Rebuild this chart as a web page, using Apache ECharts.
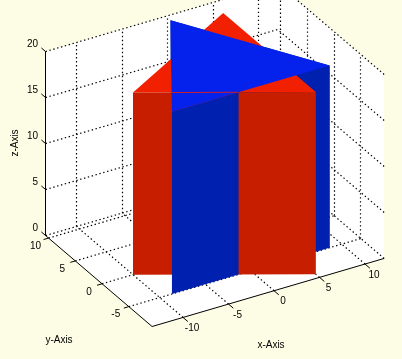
<!DOCTYPE html>
<html>
<head>
<meta charset="utf-8">
<style>html,body{margin:0;padding:0;background:#fdfde6}#c{width:402px;height:359px}</style>
<script src="https://cdn.jsdelivr.net/npm/echarts@6/dist/echarts.min.js"></script>
</head>
<body>
<div id="c"></div>
<script>
// ---- data ----
const xTicks = [-10, -5, 0, 5, 10];
const yTicks = [-5, 0, 5, 10];
const zTicks = [0, 5, 10, 15, 20];
const xRange = [-13.4, 12.1];
const yRange = [-9.35, 10.55];
const zRange = [0, 20];
const prismHeight = 19.8;
const redTriangle = [[-10, 0], [5, -8.66], [5, 8.66]];
const blueTriangle = [[-8.66, -5], [8.66, -5], [0, 10]];
const crossing = [-1.34, -5];
const axisTitles = ['x-Axis', 'y-Axis', 'z-Axis'];

// ---- orthographic view of the 3D box onto the hidden 2D axes ----
const view = {ox: 224, oy: 248, xx: 9.1, xy: -2.67, yx: -5.35, yy: -4.57, zy: -9.2};
function proj(p) {
  return [view.ox + view.xx * p[0] + view.yx * p[1],
          view.oy + view.xy * p[0] + view.yy * p[1] + view.zy * p[2]];
}
const [x0, x1] = xRange, [y0, y1] = yRange, [z0, z1] = zRange;
const wall = (a, b, h) => [[a[0], a[1], 0], [b[0], b[1], 0], [b[0], b[1], h], [a[0], a[1], h]];
const tri = (t, h) => t.map(v => [v[0], v[1], h]);

const C = {redWall: '#c81e00', redTop: '#f02000', blueWall: '#0020b0', blueTop: '#0422ec'};
const [A, B, E] = redTriangle, [R, Q, P] = blueTriangle;
const h = prismHeight;
const polys = [
  {pts: [[x0,y0,0],[x1,y0,0],[x1,y0,z1],[x1,y1,z1],[x0,y1,z1],[x0,y1,0]], fill: '#ffffff'},
  {pts: wall(crossing, Q, h), fill: C.blueWall},
  {pts: wall(Q, P, h), fill: C.blueWall},
  {pts: tri(redTriangle, h), fill: C.redTop},
  {pts: wall(A, B, h), fill: C.redWall},
  {pts: wall(R, crossing, h), fill: C.blueWall},
  {pts: tri(blueTriangle, h), fill: C.blueTop}
];

const dotted = [];
xTicks.forEach(x => {
  dotted.push([[x,y1,z0],[x,y1,z1]]);
  dotted.push([[x,y0,z0],[x,y1,z0]]);
});
yTicks.forEach(y => {
  dotted.push([[x1,y,z0],[x1,y,z1]]);
  dotted.push([[x0,y,z0],[x1,y,z0]]);
});
zTicks.forEach(z => {
  dotted.push([[x0,y1,z],[x1,y1,z]]);
  dotted.push([[x1,y0,z],[x1,y1,z]]);
});

const solid = [
  [[x0,y1,z0],[x0,y1,z1]],
  [[x0,y0,z0],[x0,y1,z0]],
  [[x0,y0,z0],[x1,y0,z0]]
];
xTicks.forEach(x => solid.push([[x,y0,0],[x,y0-0.9,0]]));
yTicks.forEach(y => solid.push([[x0,y,0],[x0-0.55,y,0]]));
zTicks.forEach(z => solid.push([[x0,y1,z],[x0,y1+0.8,z]]));

const labels = [];
xTicks.forEach(x => labels.push({p:[x,y0,0], t:String(x), dx:9, dy:11, a:'center'}));
yTicks.forEach(y => labels.push({p:[x0,y,0], t:String(y), dx:-13, dy:8, a:'center'}));
zTicks.forEach(z => labels.push({p:[x0,y1,z], t:String(z), dx:-7.5, dy:-7, a:'right'}));

const FONT = '10px "Liberation Sans", Arial, sans-serif';

const chart = echarts.init(document.getElementById('c'), null, {renderer:'canvas'});
const idx = a => a.map((_, i) => [i]);
const at = (api, p) => api.coord(proj(p));
// keep vertical rules on the pixel grid so they stay crisp
function seg(a, b) {
  const vertical = Math.abs(a[0] - b[0]) < 0.01;
  const sx = v => vertical ? Math.floor(v) + 0.5 : v;
  return {x1: sx(a[0]), y1: a[1], x2: sx(b[0]), y2: b[1]};
}

chart.setOption({
  animation: false,
  backgroundColor: '#fdfde6',
  grid: {left: 0, right: 0, top: 0, bottom: 0},
  xAxis: {type: 'value', min: 0, max: 402, show: false},
  yAxis: {type: 'value', min: 0, max: 359, inverse: true, show: false},
  graphic: [
    {type:'text', x:271, y:345, style:{text:axisTitles[0], font:FONT, fill:'#000', align:'center', verticalAlign:'middle'}},
    {type:'text', x:59, y:340, style:{text:axisTitles[1], font:FONT, fill:'#000', align:'center', verticalAlign:'middle'}},
    {type:'text', x:15, y:143, rotation:Math.PI/2, style:{text:axisTitles[2], font:FONT, fill:'#000', align:'center', verticalAlign:'middle'}}
  ],
  series: [
    {type:'custom', z:1, silent:true, clip:false, data:idx(polys.slice(0,1)),
     renderItem:(p, api) => ({type:'polygon', shape:{points:polys[0].pts.map(q=>at(api,q))}, style:{fill:polys[0].fill}})},
    {type:'custom', z:2, silent:true, clip:false, data:idx(dotted),
     renderItem:(p, api) => {
       const s = dotted[api.value(0)];
       return {type:'line', shape:seg(at(api,s[0]), at(api,s[1])), style:{stroke:'#000', lineWidth:1.2, lineDash:[1.4,2.6]}};
     }},
    {type:'custom', z:3, silent:true, clip:false, data:idx(polys).slice(1),
     renderItem:(p, api) => {
       const g = polys[api.value(0)];
       return {type:'polygon', shape:{points:g.pts.map(q=>at(api,q))}, style:{fill:g.fill}};
     }},
    {type:'custom', z:4, silent:true, clip:false, data:[[0]],
     renderItem:(p, api) => {
       const a = at(api,[A[0],A[1],h]), b = at(api,[crossing[0],crossing[1],h]);
       return {type:'line', shape:{x1:a[0]+38,y1:a[1],x2:b[0],y2:b[1]}, style:{stroke:'#c8202a', lineWidth:1}};
     }},
    {type:'custom', z:5, silent:true, clip:false, data:idx(solid),
     renderItem:(p, api) => {
       const s = solid[api.value(0)];
       return {type:'line', shape:seg(at(api,s[0]), at(api,s[1])), style:{stroke:'#000', lineWidth:1}};
     }},
    {type:'custom', z:6, silent:true, clip:false, data:idx(labels),
     renderItem:(p, api) => {
       const l = labels[api.value(0)], a = at(api,l.p);
       return {type:'text', style:{text:l.t, x:a[0]+l.dx, y:a[1]+l.dy, font:FONT, fill:'#000', align:l.a, verticalAlign:'middle'}};
     }}
  ]
});
</script>
</body>
</html>
